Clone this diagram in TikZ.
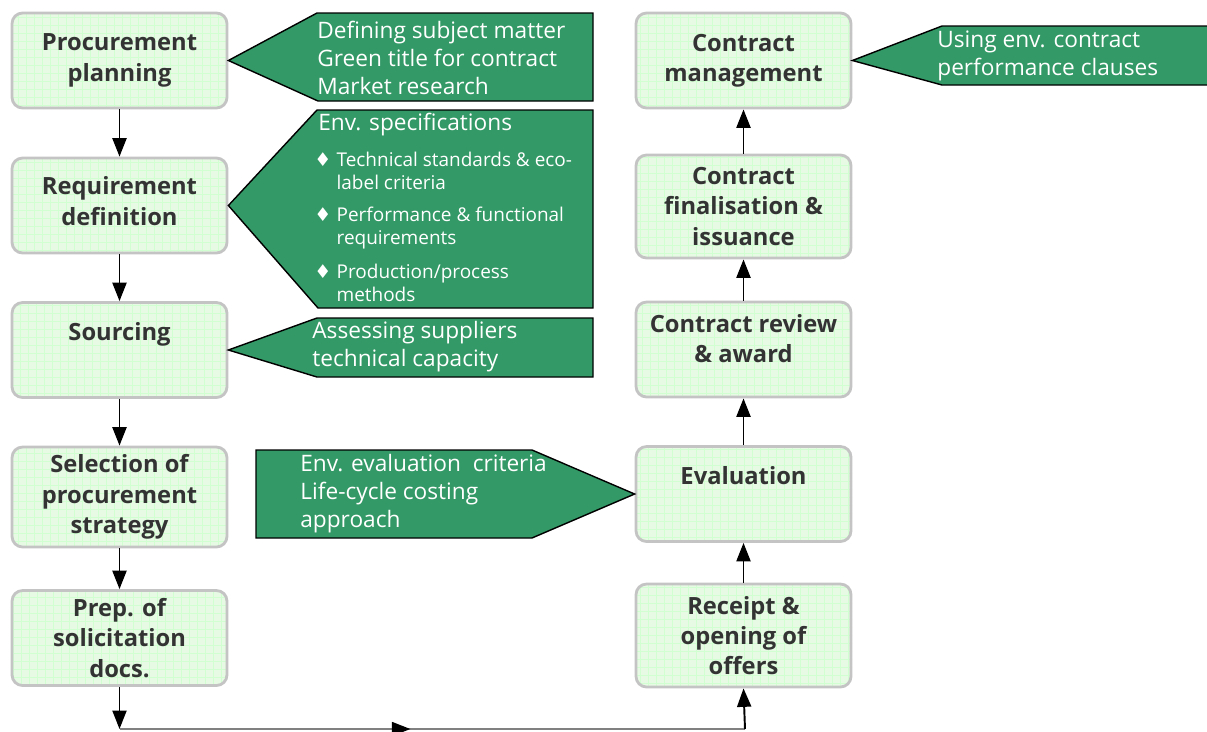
\documentclass[tikz,border=0pt]{standalone}
\usepackage{fontspec}
\setmainfont{Open Sans}
\newfontfamily\symfont{DejaVu Sans}
\usetikzlibrary{arrows.meta, decorations.markings}
\definecolor{calloutgreen}{HTML}{339966}
\definecolor{stagefill}{HTML}{E6FAE4}
\definecolor{stageline}{HTML}{C4C4C4}
\definecolor{stagetext}{HTML}{333333}
\tikzset{>={Triangle[length=10.5pt,width=8pt]}}
\tikzset{
  stage/.style={draw=stageline, line width=1.6pt, rounded corners=6pt,
    fill=stagefill, minimum width=4.3cm, minimum height=1.9cm,
    align=center, text=stagetext, font=\fontsize{13.5}{17.3}\selectfont\bfseries,
    path picture={\draw[green!18!white, line width=0.3pt, step=0.16cm]
      (path picture bounding box.south west) grid (path picture bounding box.north east);}},
  callout/.style={draw=black, line width=0.8pt, fill=calloutgreen},
  note/.style={anchor=west, align=left, text=white, inner sep=0pt,
    font=\fontsize{12.9}{15.9}\selectfont},
  bullet/.style={anchor=north west, align=left, text=white, inner sep=0pt,
    font=\fontsize{10.8}{13.6}\selectfont},
  flow/.style={->, line width=1.1pt}
}

\begin{document}
\begin{tikzpicture}[x=0.02cm, y=-0.02cm, decoration={markings,
mark=at position 0.465 with {\arrow[black]{>}};}]
    \useasboundingbox (0,0) rectangle (1207,731);
    % left column
    \node[stage] (plan) at (119.5,60.5) {Procurement\\planning};
    \node[stage] (req) at (119.5,205.5) {Requirement\\definition\\[-12pt]\mbox{}};
    \node[stage] (src) at (119.5,350) {Sourcing\\[4pt]\mbox{}};
    \node[stage, minimum height=2cm] (strat) at (119.5,497) {Selection of\\procurement\\strategy};
    \node[stage] (prep) at (119.5,638) {Prep. of\\solicitation\\docs.};
    % right column
    \node[stage] (manage) at (743.5,60.5) {Contract\\management};
    \node[stage, minimum height=2.06cm] (final) at (743.5,206.5) {Contract\\finalisation \&\\issuance};
    \node[stage] (review) at (743.5,349.5) {Contract review\\\& award\\[-4.5pt]\mbox{}};
    \node[stage] (eval) at (743.5,494) {Evaluation\\[4pt]\mbox{}};
    \node[stage, minimum height=2.06cm] (receipt) at (743.5,635.5) {Receipt \&\\opening of\\offers};
    % callouts
    \draw[callout] (plan.east) -- (317,13) -- (593,13) -- (593,101) -- (318,101) -- cycle;
    \draw[callout] (req.east) -- (317,110) -- (593,110) -- (593,308) -- (318,308) -- cycle;
    \draw[callout] (src.east) -- (317,318) -- (593,318) -- (593,377) -- (317,377) -- cycle;
    \draw[callout] (eval.west) -- (532,450) -- (256,450) -- (256,538) -- (532,538) -- cycle;
    \draw[callout] (manage.east) -- (942,26) -- (1210,26) -- (1210,85) -- (942,85) -- cycle;
    \node[note] (plannote) at (317,58) {Defining subject matter\\Green title for contract\\Market research};
    \node[note] (reqnote) at (318,125) {Env. specifications};
    \node[bullet] (spec1) at (314,149) {{\symfont ♦}\hspace{3pt}\begin{tabular}[t]{@{}l@{}}Technical standards \& eco-\\label criteria\end{tabular}};
    \node[bullet] (spec2) at (314,204) {{\symfont ♦}\hspace{3pt}\begin{tabular}[t]{@{}l@{}}Performance \& functional\\requirements\end{tabular}};
    \node[bullet] (spec3) at (314,261) {{\symfont ♦}\hspace{3pt}\begin{tabular}[t]{@{}l@{}}Production/process\\methods\end{tabular}};
    \node[note] (srcnote) at (312,347) {Assessing suppliers\\technical capacity};
    \node[note] (evalnote) at (300,494) {Env. evaluation\ \ criteria\\Life-cycle costing\\approach};
    \node[note] (managenote) at (937,56) {Using env. contract\\performance clauses};
    % flow
    \draw[flow] (plan) -- (req);
    \draw[flow] (req) -- (src);
    \draw[flow] (src) -- (strat);
    \draw[flow] (strat) -- (prep);
    \coordinate (bl) at (119.5,729);
    \coordinate (br) at (745,729);
    \draw[flow] (prep.south) -- (bl);
    \draw[gray, line width=0.9pt, postaction={decorate}] (bl) -- (br);
    \draw[flow] (br) -- (receipt.south);
    \draw[flow] (receipt) -- (eval);
    \draw[flow] (eval) -- (review);
    \draw[flow] (review) -- (final);
    \draw[flow] (final) -- (manage);
\end{tikzpicture}
\end{document}
